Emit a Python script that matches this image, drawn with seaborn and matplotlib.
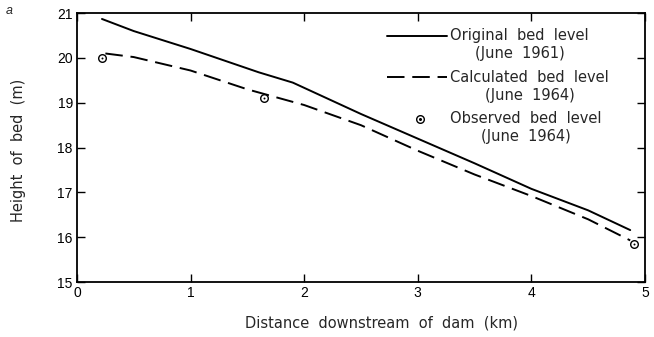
import matplotlib
matplotlib.use("Agg")
import matplotlib.pyplot as plt
import seaborn as sns
import pandas as pd
from matplotlib.lines import Line2D

# Bed profile downstream of the dam
orig_km = [0.22, 0.5, 1.0, 1.6, 1.9, 2.2, 2.5, 3.0, 3.5, 4.0, 4.5, 4.87]
orig_m = [20.87, 20.6, 20.2, 19.68, 19.45, 19.1, 18.75, 18.2, 17.65, 17.08, 16.6, 16.16]

calc_km = [0.25, 0.5, 1.0, 1.5, 2.0, 2.5, 3.0, 3.5, 4.0, 4.5, 4.87]
calc_m = [20.1, 20.02, 19.72, 19.3, 18.95, 18.5, 17.93, 17.4, 16.92, 16.4, 15.93]

obs_km = [0.22, 1.65, 4.9]
obs_m = [20.0, 19.1, 15.85]

x_ticks = [0, 1, 2, 3, 4, 5]
y_ticks = [15, 16, 17, 18, 19, 20, 21]

legend_labels = ["Original  bed  level\n(June  1961)",
                 "Calculated  bed  level\n(June  1964)",
                 "Observed  bed  level\n(June  1964)"]

sns.set_theme(style="ticks")
plt.rcParams["font.family"] = ["Liberation Sans", "DejaVu Sans"]
label_font = ["DejaVu Sans"]

orig = pd.DataFrame({"km": orig_km, "m": orig_m})
calc = pd.DataFrame({"km": calc_km, "m": calc_m})
obs = pd.DataFrame({"km": obs_km, "m": obs_m})

fig = plt.figure(figsize=(6.54, 3.37), dpi=100)
ax = fig.add_axes([0.1177, 0.163, 0.8685, 0.798])

sns.lineplot(data=orig, x="km", y="m", ax=ax, color="black", lw=1.4,
             sort=False, estimator=None)
sns.lineplot(data=calc, x="km", y="m", ax=ax, color="black",
             lw=1.4, sort=False, estimator=None)
ax.lines[-1].set_dashes((9, 4))
sns.scatterplot(data=obs, x="km", y="m", ax=ax, marker="o", s=30,
                facecolor="white", edgecolor="black", linewidth=1.0, zorder=5)
sns.scatterplot(data=obs, x="km", y="m", ax=ax, marker="o", s=2,
                color="black", linewidth=0, zorder=6)

ax.set_xlim(0, 5)
ax.set_ylim(15, 21)
ax.set_xticks(x_ticks)
ax.set_yticks(y_ticks)
ax.set_xticklabels([str(v) for v in x_ticks])
ax.set_yticklabels([str(v) for v in y_ticks])
ax.tick_params(direction="in", length=6, width=1.0, labelsize=10,
               top=True, right=True, colors="black", pad=3)
for s in ax.spines.values():
    s.set_linewidth(1.3)
    s.set_color("black")

ax.set_xlabel("Distance  downstream  of  dam  (km)", fontsize=10.5,
              family=label_font)
ax.xaxis.set_label_coords(0.537, -0.125)
ax.set_ylabel("Height  of  bed  (m)", fontsize=10.5, family=label_font)
ax.yaxis.set_label_coords(-0.09, 0.49)

# Key drawn inside the plotting area
tr = ax.transAxes
rows = [0.916, 0.761, 0.607]
ax.add_line(Line2D([0.546, 0.651], [rows[0]] * 2, transform=tr, color="black", lw=1.4))
ax.add_line(Line2D([0.546, 0.651], [rows[1]] * 2, transform=tr, color="black", lw=1.4,
                   dashes=(9, 4)))
ax.plot([0.604], [rows[2]], transform=tr, marker="o", ms=5.5, mfc="white",
        mec="black", mew=1.0, ls="none")
ax.plot([0.604], [rows[2]], transform=tr, marker="o", ms=1.2, color="black", ls="none")
for y, lab in zip(rows, legend_labels):
    ax.text(0.657, y + 0.028, lab, transform=tr, ha="left", va="top",
            multialignment="center", fontsize=10.5, linespacing=1.25,
            family=label_font)

fig.text(0.008, 0.985, "a", fontsize=9, style="italic", va="top", ha="left")

fig.savefig("out.png", dpi=100)
